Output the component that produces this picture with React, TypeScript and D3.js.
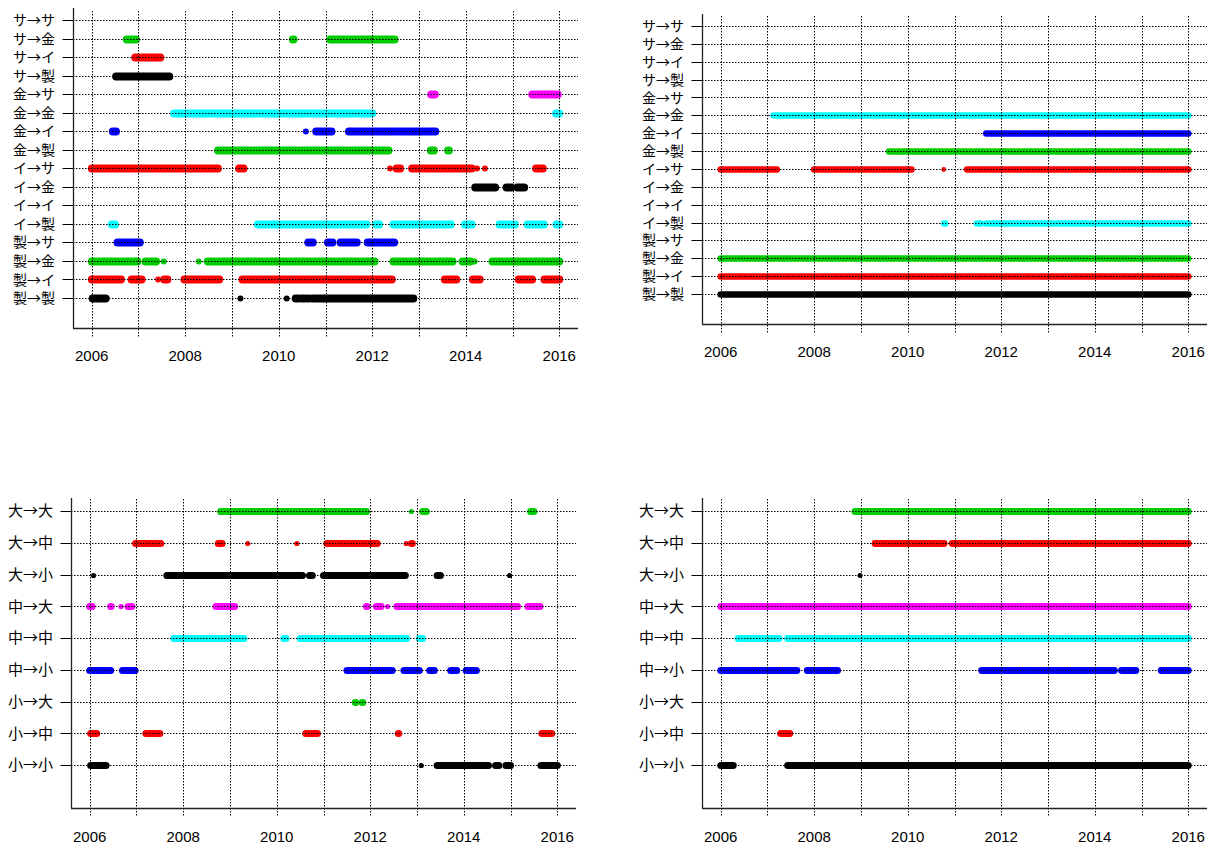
import React from "react";
import * as d3 from "d3";

// ---------- categories ----------
const rowsTop = [
  "サ→サ", "サ→金", "サ→イ", "サ→製",
  "金→サ", "金→金", "金→イ", "金→製",
  "イ→サ", "イ→金", "イ→イ", "イ→製",
  "製→サ", "製→金", "製→イ", "製→製",
];
const rowsBottom = [
  "大→大", "大→中", "大→小",
  "中→大", "中→中", "中→小",
  "小→大", "小→中", "小→小",
];
const yearTicks = [2006, 2008, 2010, 2012, 2014, 2016];
const gridYears = [2006, 2007, 2008, 2009, 2010, 2011, 2012, 2013, 2014, 2015, 2016];

type Seg = [number, number];

// ---------- top-left panel: periods (start, end year) per row, top to bottom ----------
const topLeftPeriods: Seg[][] = [
  [],
  [[2006.75, 2006.95], [2010.3, 2010.32], [2011.1, 2012.48]],
  [[2006.93, 2007.47]],
  [[2006.52, 2007.66]],
  [[2013.26, 2013.34], [2015.42, 2015.97]],
  [[2007.76, 2012.0], [2015.93, 2016.0]],
  [[2006.45, 2006.52], [2010.58, 2010.58], [2010.8, 2011.13], [2011.5, 2013.35]],
  [[2008.7, 2012.35], [2013.25, 2013.32], [2013.62, 2013.64]],
  [[2006.0, 2008.7], [2009.15, 2009.25], [2012.38, 2012.38], [2012.52, 2012.6], [2012.85, 2014.13], [2014.24, 2014.24], [2014.41, 2014.41], [2015.5, 2015.65]],
  [[2014.2, 2014.63], [2014.87, 2014.97], [2015.1, 2015.25]],
  [],
  [[2006.43, 2006.5], [2009.55, 2011.88], [2012.08, 2012.15], [2012.45, 2013.68], [2013.98, 2014.13], [2014.72, 2015.05], [2015.32, 2015.67], [2015.94, 2016.0]],
  [[2006.55, 2007.03], [2010.63, 2010.73], [2011.05, 2011.15], [2011.32, 2011.67], [2011.9, 2012.47]],
  [[2006.0, 2006.98], [2007.15, 2007.38], [2007.54, 2007.54], [2008.29, 2008.29], [2008.48, 2012.05], [2012.45, 2013.72], [2013.93, 2014.0], [2014.05, 2014.1], [2014.19, 2014.19], [2014.57, 2016.0]],
  [[2006.0, 2006.63], [2006.85, 2007.07], [2007.42, 2007.42], [2007.55, 2007.62], [2007.98, 2008.73], [2009.22, 2012.42], [2013.55, 2013.8], [2014.15, 2014.3], [2015.13, 2015.42], [2015.68, 2016.0]],
  [[2006.02, 2006.3], [2009.18, 2009.18], [2010.17, 2010.17], [2010.36, 2010.4], [2010.47, 2010.55], [2010.62, 2010.64], [2010.72, 2010.74], [2010.8, 2012.88]],
];

// ---------- top-right panel ----------
const topRightPeriods: Seg[][] = [
  [], [], [], [], [],
  [[2007.13, 2016.0]],
  [[2011.68, 2016.0]],
  [[2009.6, 2016.0]],
  [[2006.0, 2007.2], [2008.0, 2010.08], [2010.77, 2010.77], [2011.27, 2016.0]],
  [], [],
  [[2010.78, 2010.8], [2011.48, 2011.56], [2011.68, 2016.0]],
  [],
  [[2006.0, 2016.0]],
  [[2006.0, 2016.0]],
  [[2006.0, 2016.0]],
];

// ---------- bottom-left panel ----------
const bottomLeftPeriods: Seg[][] = [
  [[2008.8, 2011.92], [2012.88, 2012.88], [2013.12, 2013.2], [2015.43, 2015.5]],
  [[2006.98, 2007.52], [2008.75, 2008.83], [2009.38, 2009.38], [2010.43, 2010.43], [2011.07, 2012.15], [2012.77, 2012.77], [2012.88, 2012.9]],
  [[2006.08, 2006.08], [2007.65, 2010.55], [2010.7, 2010.76], [2011.0, 2012.75], [2013.43, 2013.5], [2014.98, 2014.98]],
  [[2006.0, 2006.05], [2006.45, 2006.46], [2006.67, 2006.67], [2006.82, 2006.9], [2008.7, 2009.1], [2011.92, 2011.93], [2012.13, 2012.23], [2012.37, 2012.37], [2012.57, 2015.15], [2015.37, 2015.63]],
  [[2007.8, 2009.3], [2010.15, 2010.2], [2010.5, 2012.78], [2013.05, 2013.12]],
  [[2006.0, 2006.45], [2006.7, 2006.97], [2011.5, 2012.47], [2012.72, 2013.05], [2013.27, 2013.37], [2013.72, 2013.85], [2014.05, 2014.27]],
  [[2011.68, 2011.69], [2011.83, 2011.84]],
  [[2006.02, 2006.15], [2007.2, 2007.5], [2010.62, 2010.87], [2012.6, 2012.61], [2015.67, 2015.88]],
  [[2006.02, 2006.35], [2013.09, 2013.09], [2013.43, 2014.53], [2014.68, 2014.75], [2014.9, 2015.0], [2015.65, 2016.0]],
];

// ---------- bottom-right panel ----------
const bottomRightPeriods: Seg[][] = [
  [[2008.87, 2016.0]],
  [[2009.3, 2010.78], [2010.95, 2016.0]],
  [[2008.98, 2008.98]],
  [[2006.0, 2016.0]],
  [[2006.37, 2007.25], [2007.43, 2016.0]],
  [[2006.0, 2007.63], [2007.85, 2008.5], [2011.58, 2014.42], [2014.57, 2014.88], [2015.42, 2016.0]],
  [],
  [[2007.28, 2007.48]],
  [[2006.0, 2006.27], [2007.43, 2016.0]],
];

// R default palette cycle (black, red, green3, blue, cyan, magenta), counted from the bottom row
const palette = ["#000000", "#FF0000", "#00CD00", "#0000FF", "#00FFFF", "#FF00FF"];

type PanelCfg = {
  rows: string[];
  periods: Seg[][];
  axisX: number;
  rightX: number;
  top: number;
  bottom: number;
  rowFirst: number;
  rowLast: number;
  vTop: number;
  vBottom: number;
  labelY: number;
  r: number;
  labelSize: number;
};

const panels: PanelCfg[] = [
  { rows: rowsTop, periods: topLeftPeriods, axisX: 73, rightX: 578, top: 8, bottom: 328, rowFirst: 20, rowLast: 298, vTop: 11, vBottom: 337, labelY: 361, r: 3.9, labelSize: 14 },
  { rows: rowsTop, periods: topRightPeriods, axisX: 702, rightX: 1207, top: 14, bottom: 324, rowFirst: 26, rowLast: 294, vTop: 16, vBottom: 333, labelY: 357, r: 3.3, labelSize: 14 },
  { rows: rowsBottom, periods: bottomLeftPeriods, axisX: 71, rightX: 576, top: 498, bottom: 808, rowFirst: 511, rowLast: 765, vTop: 499, vBottom: 817, labelY: 842, r: 3.5, labelSize: 15 },
  { rows: rowsBottom, periods: bottomRightPeriods, axisX: 702, rightX: 1207, top: 498, bottom: 808, rowFirst: 511, rowLast: 765, vTop: 499, vBottom: 817, labelY: 842, r: 3.4, labelSize: 15 },
];

function Panel({ cfg }: { cfg: PanelCfg }) {
  const n = cfg.rows.length;
  const x = d3.scaleLinear().domain([2005.6, 2016.4]).range([cfg.axisX, cfg.axisX + 505]);
  const y = d3.scaleLinear().domain([0, n - 1]).range([cfg.rowFirst, cfg.rowLast]);
  const colorOf = (i: number) => palette[(n - 1 - i) % palette.length];
  const dash = "1.5,1.5";
  const snap = (v: number) => Math.round(v) + 0.5;
  return (
    <g>
      {/* markers */}
      {cfg.periods.map((segs, i) =>
        segs.map(([a, b], j) => {
          const single = b - a < 0.005;
          const r = single ? cfg.r - 0.9 : cfg.r;
          const x0 = x(a) - r;
          const w = x(b) - x(a) + 2 * r;
          return (
            <rect
              key={`${i}-${j}`}
              x={x0}
              y={snap(y(i)) - r}
              width={w}
              height={2 * r}
              rx={r}
              ry={r}
              fill={colorOf(i)}
            />
          );
        })
      )}
      {/* horizontal dotted grid + solid ticks */}
      {cfg.rows.map((lab, i) => (
        <g key={lab}>
          <line x1={cfg.axisX - 10.5} x2={cfg.axisX} y1={snap(y(i))} y2={snap(y(i))} stroke="#000" strokeWidth={1} />
          <line x1={cfg.axisX} x2={cfg.rightX} y1={snap(y(i))} y2={snap(y(i))} stroke="#000" strokeWidth={1} strokeDasharray={dash} />
          <text
            x={cfg.axisX - 18}
            y={y(i)}
            dy="0.36em"
            textAnchor="end"
            fontFamily="'Noto Sans CJK JP', 'Noto Sans', sans-serif"
            fontSize={cfg.labelSize}
            fill="#000"
          >
            {lab}
          </text>
        </g>
      ))}
      {/* vertical dotted grid */}
      {gridYears.map((yr) => (
        <line key={yr} x1={snap(x(yr))} x2={snap(x(yr))} y1={cfg.vTop} y2={cfg.vBottom} stroke="#000" strokeWidth={1} strokeDasharray={dash} />
      ))}
      {/* axes (bty = "l") */}
      <line x1={snap(cfg.axisX)} x2={snap(cfg.axisX)} y1={cfg.top} y2={cfg.bottom} stroke="#222" strokeWidth={1.3} />
      <line x1={cfg.axisX} x2={cfg.rightX} y1={snap(cfg.bottom)} y2={snap(cfg.bottom)} stroke="#222" strokeWidth={1.3} />
      {yearTicks.map((yr) => (
        <text
          key={yr}
          x={x(yr)}
          y={cfg.labelY}
          textAnchor="middle"
          fontFamily="'Liberation Sans', Arial, sans-serif"
          fontSize={15}
          fill="#000"
        >
          {yr}
        </text>
      ))}
    </g>
  );
}

export default function App() {
  return (
    <svg
      width={1207}
      height={845}
      viewBox="0 0 1207 845"
      style={{ position: "absolute", left: 0, top: 0, background: "#fff" }}
    >
      <rect x={0} y={0} width={1207} height={845} fill="#fff" />
      {panels.map((p, k) => (
        <Panel key={k} cfg={p} />
      ))}
    </svg>
  );
}
